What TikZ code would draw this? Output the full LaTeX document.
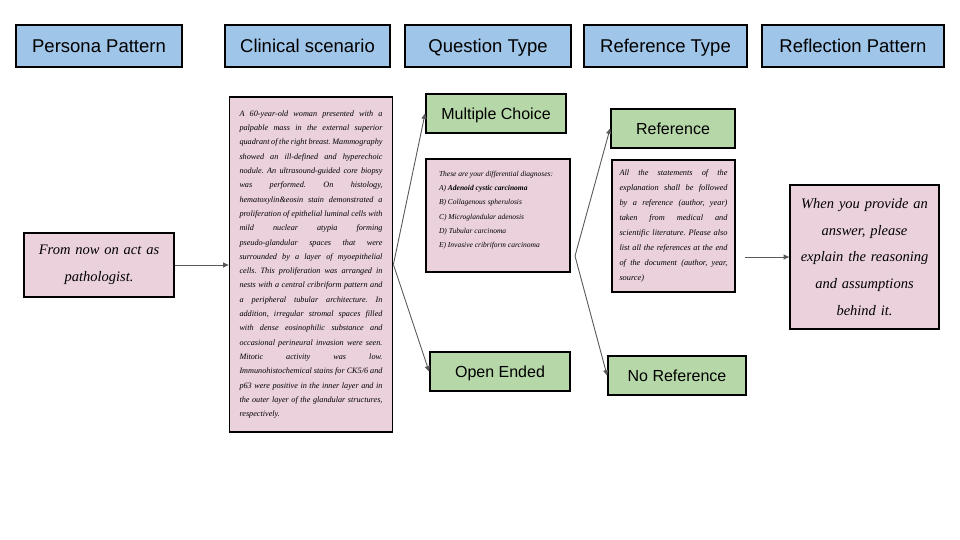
\documentclass[tikz,border=0pt]{standalone}
\usepackage{fontspec}
\setmainfont{Liberation Serif}
\newfontfamily\headfont{Liberation Sans}
\usetikzlibrary{arrows.meta, positioning}
\definecolor{headblue}{HTML}{9FC5E8}
\definecolor{optiongreen}{HTML}{B6D7A8}
\definecolor{promptpink}{HTML}{EAD1DC}
\definecolor{linkgray}{HTML}{595959}
\tolerance=10000
\hbadness=10000
\frenchspacing
\tikzset{
  header/.style={
    draw=black,
    line width=1.8pt,
    fill=headblue,
    minimum height=42pt,
    inner sep=0pt,
    text height=17pt,
    text depth=4pt,
    font=\headfont\fontsize{18.5}{22}\selectfont
  },
  option/.style={
    draw=black,
    line width=1.8pt,
    fill=optiongreen,
    minimum height=39pt,
    inner sep=0pt,
    text height=15.5pt,
    text depth=3.5pt,
    font=\headfont\fontsize{16}{19}\selectfont
  },
  prompt/.style={
    draw=black,
    line width=1.8pt,
    fill=promptpink,
    inner sep=0pt
  },
  link/.style={
    -{Triangle[length=5.5pt, width=5pt]},
    line width=0.9pt,
    draw=linkgray
  }
}

\begin{document}
\begin{tikzpicture}[x=1pt, y=-1pt]
  \useasboundingbox (0,0) rectangle (960,540);
  \node[header, minimum width=166pt] (hpersona) at (99, 46) {Persona Pattern};
  \node[header, minimum width=165pt] (hscenario) at (307.5, 46) {Clinical scenario};
  \node[header, minimum width=166pt] (hquestion) at (488, 46) {Question Type};
  \node[header, minimum width=163pt] (hreference) at (665.5, 46) {Reference Type};
  \node[header, minimum width=182pt] (hreflection) at (853, 46) {Reflection Pattern};

  \node[prompt, minimum width=150pt, minimum height=64pt, text width=140pt, align=center,
        font=\itshape\fontsize{14.5}{26.7}\selectfont] (persona) at (99, 265)
        {From now on act as\\ pathologist.};

  \node[prompt, minimum width=163pt, minimum height=335pt, text width=143pt, align=justify,
        font=\itshape\fontsize{8.2}{14.3}\selectfont] (scenario) at (311, 264.5)
        {A 60-year-old woman presented with a\linebreak
         palpable mass in the external superior\linebreak
         quadrant of the right breast. Mammography\linebreak
         showed an ill-defined and hyperechoic\linebreak
         nodule. An ultrasound-guided core biopsy\linebreak
         was performed. On histology,\linebreak
         hematoxylin\&eosin stain demonstrated a\linebreak
         proliferation of epithelial luminal cells with\linebreak
         mild nuclear atypia forming\linebreak
         pseudo-glandular spaces that were\linebreak
         surrounded by a layer of myoepithelial\linebreak
         cells. This proliferation was arranged in\linebreak
         nests with a central cribriform pattern and\linebreak
         a peripheral tubular architecture. In\linebreak
         addition, irregular stromal spaces filled\linebreak
         with dense eosinophilic substance and\linebreak
         occasional perineural invasion were seen.\linebreak
         Mitotic activity was low.\linebreak
         Immunohistochemical stains for CK5/6 and\linebreak
         p63 were positive in the inner layer and in\linebreak
         the outer layer of the glandular structures,\linebreak
         respectively.};

  \node[option, minimum width=140pt] (multiple) at (496, 113.5) {Multiple Choice};
  \node[prompt, inner xsep=13pt, inner ysep=8pt,
        font=\itshape\fontsize{7.5}{14.3}\selectfont] (diagnoses) at (498, 215.5)
        {\parbox[t][97pt][t]{118pt}{\raggedright\vspace*{4pt}
         These are your differential diagnoses:\\
         A) \textbf{Adenoid cystic carcinoma}\\
         B) Collagenous spherulosis\\
         C) Microglandular adenosis\\
         D) Tubular carcinoma\\
         E) Invasive cribriform carcinoma}};
  \node[option, minimum width=140pt] (openended) at (500, 371.5) {Open Ended};

  \node[option, minimum width=124pt] (withref) at (673, 128.5) {Reference};
  \node[prompt, minimum width=123pt, minimum height=132pt, text width=108pt, align=justify,
        font=\itshape\fontsize{8.3}{15.1}\selectfont] (refrule) at (673.5, 226)
        {All the statements of the\linebreak
         explanation shall be followed\linebreak
         by a reference (author, year)\linebreak
         taken from medical and\linebreak
         scientific literature. Please also\linebreak
         list all the references at the end\linebreak
         of the document (author, year,\linebreak
         source)};
  \node[option, minimum width=138pt] (noref) at (677, 375.5) {No Reference};

  \node[prompt, minimum width=149pt, minimum height=144pt, text width=140pt, align=center,
        font=\itshape\fontsize{14.5}{26.7}\selectfont] (reflection) at (864.5, 257)
        {When you provide an\\ answer, please\\ explain the reasoning\\ and assumptions\\ behind it.};

  \coordinate (refsplit) at (575, 256);
  \coordinate (reflstart) at (745, 257);

  \draw[link] (persona.east) -- (persona.east -| scenario.west);
  \draw[link] (scenario.east) -- (multiple.west);
  \draw[link] (scenario.east) -- (openended.west);
  \draw[link] (refsplit) -- (withref.west);
  \draw[link] (refsplit) -- (noref.west);
  \draw[link] (reflstart) -- (reflection.west);
\end{tikzpicture}
\end{document}
